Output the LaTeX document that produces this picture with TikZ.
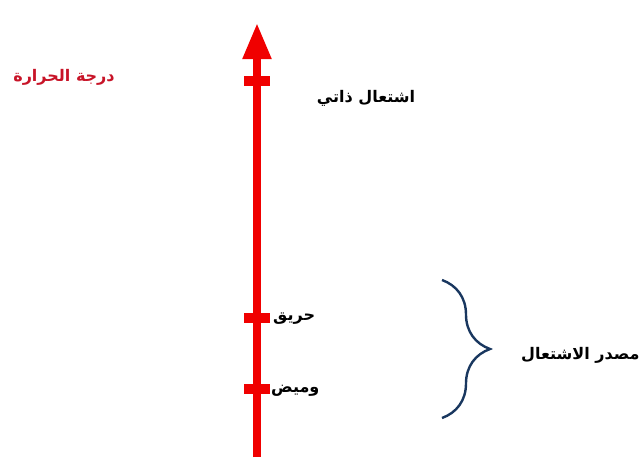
\documentclass[tikz,border=0pt]{standalone}
\usepackage{fontspec}
\TeXXeTstate=1
\newfontfamily\arabicfont[Script=Arabic]{DejaVu Sans}
\usetikzlibrary{decorations.pathreplacing,arrows.meta}
\definecolor{axisred}{RGB}{240,0,0}
\definecolor{titlered}{RGB}{200,20,40}
\definecolor{bracecol}{RGB}{25,55,95}
\tikzset{
  lbl/.style={font=\arabicfont\bfseries\fontsize{16}{19}\selectfont, inner sep=0pt},
  tickmark/.style={fill=axisred, draw=none, minimum width=26pt, minimum height=10pt, inner sep=0pt},
}
\begin{document}
\begin{tikzpicture}[x=1pt,y=-1pt]
\useasboundingbox (0,0) rectangle (641,461);
\coordinate (bot) at (257,457);
\coordinate (top) at (257,23);
\draw[axisred, line width=8pt, -{Triangle[length=36pt,width=27pt]}] (bot) -- (top);
\node[tickmark] (t1) at (257,81) {};
\node[tickmark] (t2) at (257,318) {};
\node[tickmark] (t3) at (257,389) {};
\node[lbl, text=titlered] (title) at (64,77) {\beginR درجة الحرارة\endR};
\node[lbl] (ld) at (366,98) {\beginR اشتعال ذاتي\endR};
\node[lbl, anchor=west] (lh) at (273,319) {\beginR حريق\endR};
\node[lbl, anchor=west] (lw) at (271,391) {\beginR وميض\endR};
\coordinate (bt) at (442,280);
\coordinate (bb) at (442,418);
\draw[bracecol, line width=2.4pt, decorate, decoration={brace, amplitude=48pt, aspect=0.5}] (bt) -- (bb);
\node[lbl, anchor=west] (src) at (521,355) {\beginR مصدر الاشتعال\endR};
\end{tikzpicture}
\end{document}
